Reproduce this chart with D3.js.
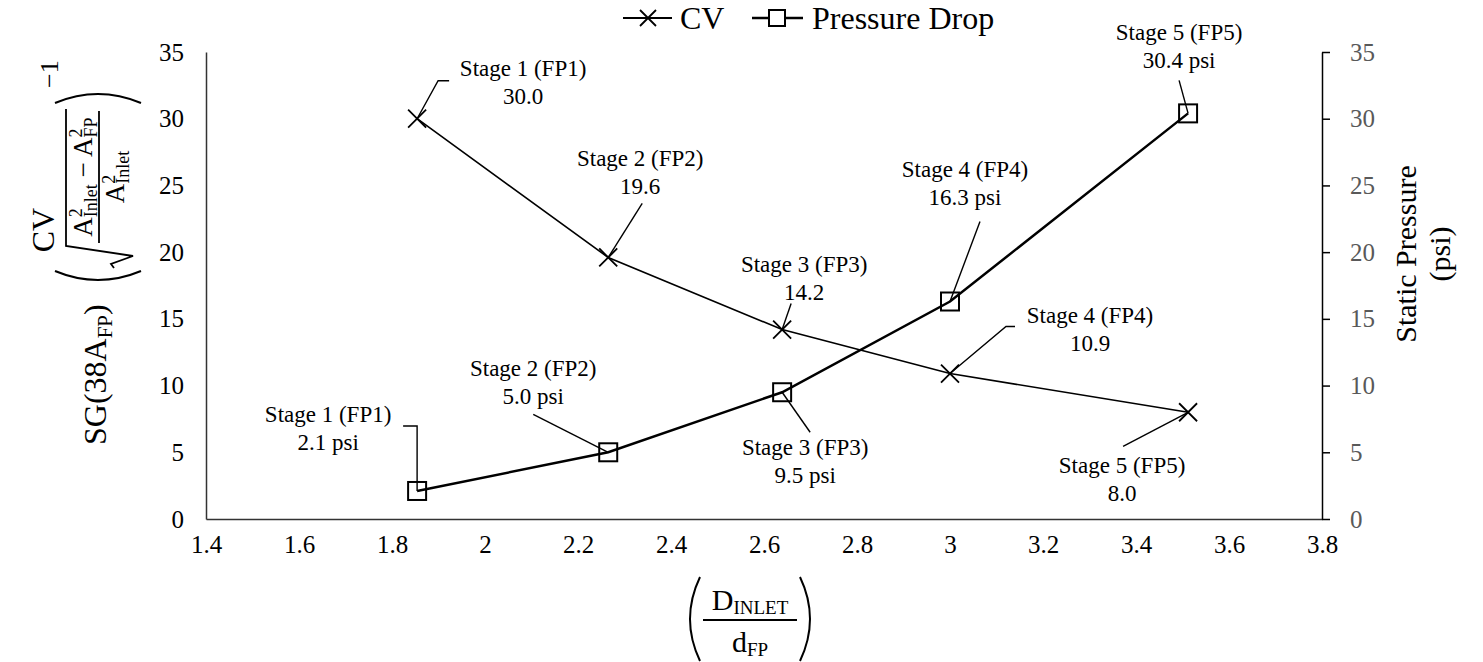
<!DOCTYPE html>
<html>
<head>
<meta charset="utf-8">
<script src="https://cdn.jsdelivr.net/npm/d3@7"></script>
<style>
  body { margin: 0; background: #fff; }
  text { font-family: "Liberation Serif", "Times New Roman", serif; }
</style>
</head>
<body>
<div id="chart"></div>
<script>
// values
const ratios = [1.854, 2.265, 2.639, 3.0, 3.512];
const stageNames = ["Stage 1 (FP1)", "Stage 2 (FP2)", "Stage 3 (FP3)", "Stage 4 (FP4)", "Stage 5 (FP5)"];
const cvValues = [30.0, 19.6, 14.2, 10.9, 8.0];
const pressureValues = [2.1, 5.0, 9.5, 16.3, 30.4];
const xTicks = [1.4, 1.6, 1.8, 2, 2.2, 2.4, 2.6, 2.8, 3, 3.2, 3.4, 3.6, 3.8];
const yTicks = [0, 5, 10, 15, 20, 25, 30, 35];
const seriesNames = ["CV", "Pressure Drop"];

// label placement, pixels relative to each marker
const cvNotes = [
    { dx: 106, dy: -43, leader: [[0, 0], [21, -38], [32, -38]] },
    { dx: 32, dy: -91, leader: [[0, 0], [34, -54]] },
    { dx: 22, dy: -58, leader: [[0, 0], [9, -26]] },
    { dx: 140, dy: -51, leader: [[0, 0], [56, -47], [65, -47]] },
    { dx: -66, dy: 61, leader: [[0, 0], [-65, 34]] }
];
const pressureNotes = [
    { dx: -89, dy: -69, leader: [[0, 0], [0, -65], [-14, -65]] },
    { dx: -75, dy: -76, leader: [[0, 0], [-75, -38]] },
    { dx: 23, dy: 63, leader: [[0, 0], [28, 40]] },
    { dx: 15, dy: -125, leader: [[0, 0], [30, -80]] },
    { dx: -9, dy: -73, leader: [[0, 0], [-9, -33]] }
];

const width = 1483, height = 662;
const margin = { top: 52, right: 161, bottom: 143, left: 206 };

const svg = d3.select("#chart").append("svg")
    .attr("width", width)
    .attr("height", height);

const x = d3.scaleLinear()
    .domain([1.4, 3.8])
    .range([margin.left, width - margin.right]);

const y = d3.scaleLinear()
    .domain([0, 35])
    .range([height - margin.bottom, margin.top]);

const y2 = d3.scaleLinear()
    .domain([0, 35])
    .range([height - margin.bottom, margin.top]);

// axes
svg.append("g")
    .attr("transform", `translate(0,${y(0)})`)
    .call(d3.axisBottom(x).tickValues(xTicks).tickSize(0).tickPadding(16).tickFormat(d => String(d)))
    .call(g => g.select(".domain").attr("stroke", "#333").attr("stroke-width", 1.5))
    .call(g => g.selectAll("text").attr("font-size", 25).attr("font-family", "Liberation Serif").attr("fill", "#000"));

svg.append("g")
    .attr("transform", `translate(${margin.left},0)`)
    .call(d3.axisLeft(y).tickValues(yTicks).tickSize(0).tickPadding(22))
    .call(g => g.select(".domain").attr("stroke", "#333").attr("stroke-width", 1.5))
    .call(g => g.selectAll("text").attr("font-size", 25).attr("font-family", "Liberation Serif").attr("fill", "#000"));

svg.append("g")
    .attr("transform", `translate(${width - margin.right},0)`)
    .call(d3.axisRight(y2).tickValues(yTicks).tickSize(8).tickSizeOuter(0).tickPadding(20))
    .call(g => g.select(".domain").attr("stroke", "#000").attr("stroke-width", 1.5))
    .call(g => g.selectAll(".tick line").attr("stroke", "#000").attr("stroke-width", 1.5))
    .call(g => g.selectAll("text").attr("font-size", 25).attr("font-family", "Liberation Serif").attr("fill", "#595959"));

// series lines
let cvLine = d3.line().x((d, i) => x(ratios[i])).y(d => y(d));
let pLine = d3.line().x((d, i) => x(ratios[i])).y(d => y2(d));

svg.append("path")
    .datum(cvValues)
    .attr("fill", "none")
    .attr("stroke", "#000")
    .attr("stroke-width", 1.6)
    .attr("d", cvLine);

svg.append("path")
    .datum(pressureValues)
    .attr("fill", "none")
    .attr("stroke", "#000")
    .attr("stroke-width", 2.5)
    .attr("d", pLine);

const cross = "M-9,-9L9,9M-9,9L9,-9";

// leaders + labels
function annotate(values, scale, notes, fmt) {
    values.forEach((v, i) => {
        let px = x(ratios[i]), py = scale(v), n = notes[i];
        svg.append("path")
            .attr("fill", "none")
            .attr("stroke", "#000")
            .attr("stroke-width", 1.4)
            .attr("d", d3.line()(n.leader.map(p => [px + p[0], py + p[1]])));
        let t = svg.append("text")
            .attr("text-anchor", "middle")
            .attr("font-size", 23)
            .attr("fill", "#000");
        t.append("tspan").attr("x", px + n.dx).attr("y", py + n.dy).text(stageNames[i]);
        t.append("tspan").attr("x", px + n.dx).attr("y", py + n.dy + 28).text(fmt(v));
    });
}
annotate(cvValues, y, cvNotes, v => v.toFixed(1));
annotate(pressureValues, y2, pressureNotes, v => v.toFixed(1) + " psi");

// markers
svg.selectAll(".cv-mark")
    .data(cvValues)
    .join("path")
    .attr("class", "cv-mark")
    .attr("transform", (d, i) => `translate(${x(ratios[i])},${y(d)})`)
    .attr("d", cross)
    .attr("stroke", "#000")
    .attr("stroke-width", 1.8);

svg.selectAll(".p-mark")
    .data(pressureValues)
    .join("rect")
    .attr("class", "p-mark")
    .attr("x", (d, i) => x(ratios[i]) - 9)
    .attr("y", d => y2(d) - 9)
    .attr("width", 18)
    .attr("height", 18)
    .attr("fill", "none")
    .attr("stroke", "#000")
    .attr("stroke-width", 2);

// legend
let lg = svg.append("g").attr("transform", "translate(623,18)");
lg.append("line").attr("x1", 0).attr("x2", 49).attr("stroke", "#000").attr("stroke-width", 2);
lg.append("path").attr("transform", "translate(25,0)").attr("d", "M-8,-8L8,8M-8,8L8,-8").attr("stroke", "#000").attr("stroke-width", 1.8);
lg.append("text").attr("x", 57).attr("y", 11).attr("font-size", 32).text(seriesNames[0]);
lg.append("line").attr("x1", 129).attr("x2", 180).attr("stroke", "#000").attr("stroke-width", 2.5);
lg.append("rect").attr("x", 146).attr("y", -8).attr("width", 16).attr("height", 16).attr("fill", "#fff").attr("stroke", "#000").attr("stroke-width", 2);
lg.append("text").attr("x", 189).attr("y", 11).attr("font-size", 32).text(seriesNames[1]);

// right axis title
svg.append("text")
    .attr("transform", "translate(1416,254) rotate(-90)")
    .attr("text-anchor", "middle")
    .attr("font-size", 30)
    .text("Static Pressure");
svg.append("text")
    .attr("transform", "translate(1450,254) rotate(-90)")
    .attr("text-anchor", "middle")
    .attr("font-size", 30)
    .text("(psi)");

// left axis title
svg.append("text")
    .attr("transform", "translate(54,230) rotate(-90)")
    .attr("text-anchor", "middle")
    .attr("font-size", 32)
    .text("CV");

let yt = svg.append("g").attr("transform", "translate(118,251) rotate(-90)");
let sg = yt.append("text").attr("x", -194).attr("y", -12).attr("font-size", 32);
sg.append("tspan").text("SG(38A");
sg.append("tspan").attr("font-size", 21).attr("dy", 6).text("FP");
sg.append("tspan").attr("dy", -6).text(")");
yt.append("path").attr("d", "M-20,-63Q-38,-20,-20,23").attr("fill", "none").attr("stroke", "#000").attr("stroke-width", 2);
yt.append("path").attr("d", "M148,-63Q166,-20,148,23").attr("fill", "none").attr("stroke", "#000").attr("stroke-width", 2);
yt.append("path").attr("d", "M-17,-4L-13,-7L-5,15L5,-52L142,-52").attr("fill", "none").attr("stroke", "#000").attr("stroke-width", 1.8);
let num = yt.append("text").attr("x", 74).attr("y", -26).attr("text-anchor", "middle").attr("font-size", 27);
num.append("tspan").text("A");
num.append("tspan").attr("font-size", 18).attr("dy", -10).text("2");
num.append("tspan").attr("font-size", 18).attr("dx", -9).attr("dy", 15).text("Inlet");
num.append("tspan").attr("dy", -5).text(" \u2212 A");
num.append("tspan").attr("font-size", 18).attr("dy", -10).text("2");
num.append("tspan").attr("font-size", 18).attr("dx", -9).attr("dy", 15).text("FP");
yt.append("line").attr("x1", 8).attr("x2", 140).attr("y1", -19).attr("y2", -19).attr("stroke", "#000").attr("stroke-width", 1.8);
let den = yt.append("text").attr("x", 74).attr("y", 6).attr("text-anchor", "middle").attr("font-size", 27);
den.append("tspan").text("A");
den.append("tspan").attr("font-size", 18).attr("dy", -9).text("2");
den.append("tspan").attr("font-size", 18).attr("dx", -9).attr("dy", 14).text("Inlet");
yt.append("text").attr("x", 163).attr("y", -60).attr("font-size", 26).text("\u22121");

// x axis title
let xt = svg.append("g").attr("transform", "translate(750,0)");
xt.append("path").attr("d", "M-50,577Q-70,619,-50,661").attr("fill", "none").attr("stroke", "#000").attr("stroke-width", 2);
xt.append("path").attr("d", "M50,577Q70,619,50,661").attr("fill", "none").attr("stroke", "#000").attr("stroke-width", 2);
xt.append("line").attr("x1", -47).attr("x2", 47).attr("y1", 620).attr("y2", 620).attr("stroke", "#000").attr("stroke-width", 1.8);
let xn = xt.append("text").attr("x", 0).attr("y", 610).attr("text-anchor", "middle").attr("font-size", 30);
xn.append("tspan").text("D");
xn.append("tspan").attr("font-size", 19).attr("dy", 4).text("INLET");
let xd = xt.append("text").attr("x", 0).attr("y", 652).attr("text-anchor", "middle").attr("font-size", 30);
xd.append("tspan").text("d");
xd.append("tspan").attr("font-size", 19).attr("dy", 4).text("FP");
</script>
</body>
</html>
